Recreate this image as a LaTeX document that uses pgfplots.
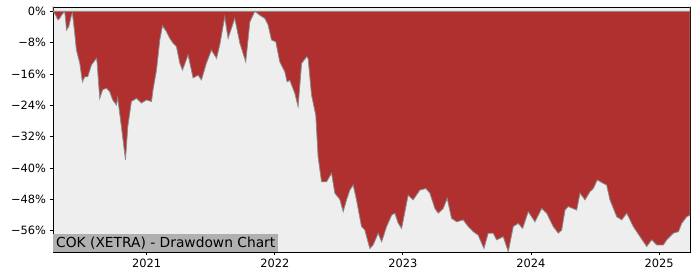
\documentclass[border=0pt]{standalone}
\usepackage{pgfplots}
\pgfplotsset{compat=1.18}
\usepackage{fontspec}
\setmainfont{DejaVu Sans}
\definecolor{ddred}{RGB}{176,48,48}
\definecolor{bggray}{RGB}{238,238,238}
\definecolor{boxgray}{RGB}{176,176,176}
\definecolor{edgegray}{RGB}{140,140,140}
\begin{document}
\begin{tikzpicture}
\path[use as bounding box] (-53pt,-28pt) rectangle (647pt,252pt);
\begin{axis}[
  scale only axis,
  width=637pt, height=245pt,
  at={(0,0)}, anchor=south west,
  xmin=2020.268, xmax=2025.242,
  ymin=-61.4, ymax=1.1,
  axis background/.style={fill=bggray},
  axis line style={black, line width=0.8pt},
  tick align=outside,
  major tick length=3.5pt,
  tick style={black, line width=0.8pt},
  xtick={2021,2022,2023,2024,2025},
  xticklabels={2021,2022,2023,2024,2025},
  ytick={0,-8,-16,-24,-32,-40,-48,-56},
  yticklabels={0\%,−8\%,−16\%,−24\%,−32\%,−40\%,−48\%,−56\%},
  ticklabel style={font=\fontsize{11.4}{13}\selectfont},
  xtick pos=bottom, ytick pos=left,
  clip=true,
]
\addplot[draw=edgegray, line width=0.8pt, fill=ddred] table {
x y
2020.268 2
2020.268 0
2020.289 -1
2020.307 -2.2
2020.320 -1.8
2020.334 -1
2020.359 0
2020.367 -2.2
2020.373 -4.8
2020.391 -3.9
2020.412 -1
2020.420 -0.5
2020.4375 -5.5
2020.451 -9.9
2020.477 -13.2
2020.498 -18
2020.516 -16.7
2020.539 -16.7
2020.568 -13.7
2020.607 -12
2020.612 -12.9
2020.633 -22.2
2020.656 -20
2020.685 -19.6
2020.711 -20.5
2020.734 -22.6
2020.763 -23.9
2020.773 -22
2020.802 -29.4
2020.834 -37.9
2020.852 -29.4
2020.880 -23
2020.920 -22.2
2020.959 -23.4
2020.998 -22.6
2021.037 -23
2021.049 -20
2021.076 -15
2021.102 -7.3
2021.123 -3.7
2021.154 -5.2
2021.180 -6.9
2021.205 -8.1
2021.232 -9
2021.245 -11.1
2021.258 -13.2
2021.279 -15
2021.323 -11.1
2021.362 -17
2021.401 -16.3
2021.427 -17.5
2021.466 -13.2
2021.505 -9.9
2021.545 -12
2021.570 -8.6
2021.609 -1.4
2021.635 -6.9
2021.6875 -1.8
2021.727 -8.1
2021.773 -12.9
2021.805 -2.7
2021.844 0
2021.883 -1
2021.922 -1.8
2021.948 -3.5
2021.974 -7.3
2022.008 -7.8
2022.039 -12.9
2022.078 -15.4
2022.096 -18
2022.117 -17.6
2022.156 -20.9
2022.182 -24.3
2022.209 -13.3
2022.248 -11.6
2022.260 -12
2022.287 -21.4
2022.320 -26.5
2022.338 -37.1
2022.365 -43.5
2022.404 -43.5
2022.443 -41.3
2022.469 -46.4
2022.508 -48
2022.534 -51.1
2022.560 -48.1
2022.586 -45.6
2022.612 -44.3
2022.638 -48.1
2022.677 -54.9
2022.703 -55.8
2022.742 -60.5
2022.768 -59.6
2022.807 -56.6
2022.834 -58.8
2022.873 -54.9
2022.912 -52
2022.9375 -51.5
2022.963 -54
2022.990 -55.4
2023.041 -46.9
2023.080 -48.1
2023.133 -45.6
2023.180 -45.2
2023.211 -46.4
2023.25 -50.3
2023.276 -51.5
2023.315 -50.3
2023.346 -47.7
2023.380 -52.8
2023.420 -53.7
2023.471 -53.2
2023.510 -54.9
2023.549 -56.2
2023.588 -57.1
2023.633 -60.5
2023.666 -56.6
2023.705 -56.6
2023.732 -58.3
2023.784 -57.5
2023.823 -61.3
2023.862 -54.9
2023.901 -54.1
2023.935 -55.4
2023.979 -51.1
2024.031 -53.7
2024.084 -50.3
2024.123 -51.5
2024.174 -54.9
2024.213 -56.6
2024.240 -55.8
2024.266 -50.7
2024.291 -49.8
2024.357 -50.7
2024.383 -46.4
2024.422 -48.1
2024.461 -46
2024.487 -45.2
2024.518 -43
2024.565 -43.9
2024.591 -44.3
2024.617 -48.1
2024.670 -52.4
2024.709 -53.2
2024.748 -51.5
2024.799 -54.9
2024.852 -57.5
2024.904 -60
2024.943 -58.3
2024.982 -59.6
2025.034 -59.6
2025.060 -58.3
2025.112 -56.6
2025.152 -56.2
2025.177 -54.1
2025.216 -52.4
2025.242 -52
2025.242 2
} \closedcycle;
\node[anchor=south west, fill=boxgray, inner xsep=3pt, inner ysep=2.5pt, font=\fontsize{13.8}{15}\selectfont]
  at (rel axis cs:0,0) {COK (XETRA) - Drawdown Chart};
\end{axis}
\end{tikzpicture}
\end{document}
